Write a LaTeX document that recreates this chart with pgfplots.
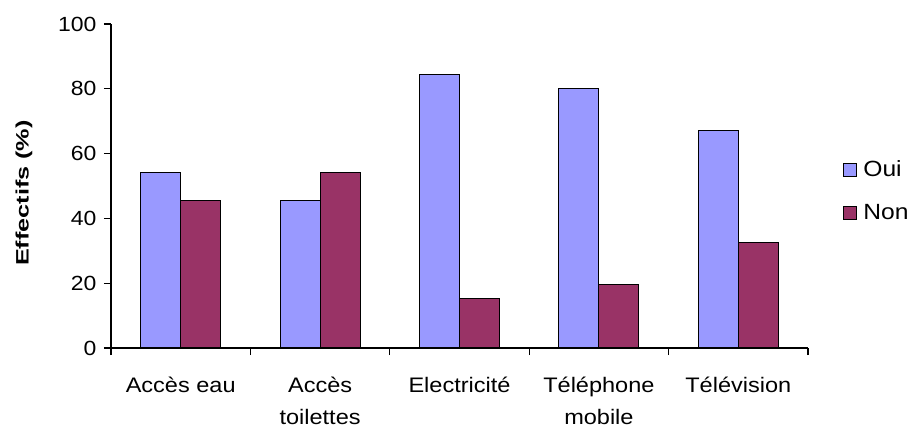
\documentclass[border=0pt]{standalone}
\usepackage{pgfplots}
\pgfplotsset{compat=1.18}
\usepackage{fontspec}
\setmainfont{Liberation Sans}[FakeStretch=1.12]
\newfontfamily\axislabelfont{Liberation Sans}[FakeStretch=1.4]
\definecolor{oui}{HTML}{9999FF}
\definecolor{non}{HTML}{993366}

\begin{document}
\begin{tikzpicture}
\path[use as bounding box] (-111pt,-80pt) rectangle (798pt,348pt);
\begin{axis}[
  at={(0pt,0pt)}, anchor=south west,
  scale only axis, width=697pt, height=324pt,
  ybar=0pt, bar width=40pt,
  xmin=-0.5, xmax=4.5, ymin=0, ymax=100,
  axis x line*=bottom, axis y line*=left,
  axis line style={line width=1.1pt, -},
  xtick={0,1,2,3,4},
  xticklabels={Accès eau, Accès\\toilettes, Electricité, Téléphone\\mobile, Télévision},
  major x tick style={draw=none},
  minor xtick={-0.5,0.5,1.5,2.5,3.5,4.5},
  ytick={0,20,40,60,80,100},
  tick align=outside,
  tick style={black, line width=1.1pt},
  major tick length=7pt, minor tick length=7pt,
  /pgf/number format/assume math mode=true,
  xticklabel style={font=\fontsize{21}{32}\selectfont, align=center, yshift=-19pt},
  yticklabel style={font=\fontsize{20.5}{20.5}\selectfont, xshift=-4pt},
  ylabel={Effectifs (\%)},
  ylabel style={font=\axislabelfont\fontsize{18}{18}\selectfont\bfseries,
    at={(axis description cs:-0.125,0.478)}, anchor=center},
  legend style={draw=none, fill=none, at={(1.046,0.59)}, anchor=north west,
    font=\fontsize{22}{22}\selectfont, row sep=22pt,
    /tikz/every odd column/.append style={column sep=4pt}},
  legend cell align=left,
  legend image code/.code={\draw[#1] (0pt,-6.5pt) rectangle (13pt,6.5pt);},
  every axis plot/.append style={draw=black, line width=1.1pt},
]
\addplot[fill=oui] coordinates {(0,54.2) (1,45.6) (2,84.4) (3,80.1) (4,67.2)};
\addplot[fill=non] coordinates {(0,45.6) (1,54.2) (2,15.2) (3,19.6) (4,32.6)};
\legend{Oui, Non}
\end{axis}
\end{tikzpicture}
\end{document}
